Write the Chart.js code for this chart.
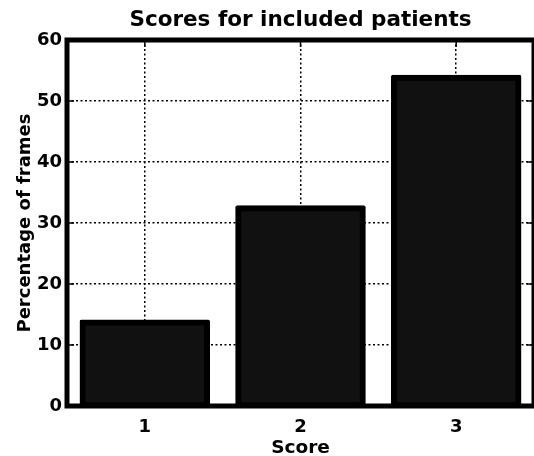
<!DOCTYPE html>
<html>
<head>
<meta charset="utf-8">
<script src="https://cdn.jsdelivr.net/npm/chart.js@4.4.0/dist/chart.umd.min.js"></script>
<style>
  html, body { margin: 0; padding: 0; background: #fff; }
  #wrap { width: 534px; height: 456px; }
</style>
</head>
<body>
<div id="wrap"><canvas id="myChart" width="534" height="456"></canvas></div>
<script>
// chart data
const scoreLabels = ['1', '2', '3'];
const framePercent = [13.7, 32.4, 53.8];
const yTicks = [0, 10, 20, 30, 40, 50, 60];

const fontFamily = '"DejaVu Sans", Verdana, sans-serif';

// matlab style box + inward ticks
const framePlugin = {
  id: 'frame',
  afterDraw(chart) {
    const ctx = chart.ctx;
    const a = chart.chartArea;
    const xs = chart.scales.x, ys = chart.scales.y;
    ctx.save();
    ctx.strokeStyle = '#000';
    ctx.lineWidth = 1.5;
    ctx.beginPath();
    xs.ticks.forEach((t, i) => {
      const px = xs.getPixelForTick(i);
      ctx.moveTo(px, a.top); ctx.lineTo(px, a.top + 7);
    });
    yTicks.forEach(v => {
      const py = ys.getPixelForValue(v);
      ctx.moveTo(a.left, py); ctx.lineTo(a.left + 7, py);
      ctx.moveTo(a.right, py); ctx.lineTo(a.right - 7, py);
    });
    ctx.stroke();
    ctx.lineWidth = 5;
    ctx.lineJoin = 'miter';
    ctx.strokeRect(a.left, a.top, a.right - a.left, a.bottom - a.top);
    ctx.restore();
  }
};

new Chart(document.getElementById('myChart'), {
  type: 'bar',
  data: {
    labels: scoreLabels,
    datasets: [{
      data: framePercent,
      xAxisID: 'x',
      backgroundColor: '#111111',
      borderColor: '#000000',
      borderWidth: 6,
      borderSkipped: false,
      borderRadius: 2,
      inflateAmount: 3,
      barPercentage: 0.8,
      categoryPercentage: 1.0
    }]
  },
  options: {
    responsive: false,
    animation: false,
    layout: { padding: { left: 0, right: -1, top: 0, bottom: 0 } },
    plugins: {
      legend: { display: false },
      tooltip: { enabled: false }
    },
    scales: {
      // top axis only carries the title, so it centres over the plot box
      top: {
        type: 'category',
        position: 'top',
        grid: { display: false, drawTicks: false },
        border: { display: false },
        ticks: { display: false },
        title: {
          display: true,
          text: 'Scores for included patients',
          color: '#000',
          padding: { top: 10, bottom: 0 },
          font: { family: fontFamily, size: 21.5, weight: 'bold', lineHeight: 1 }
        },
        afterFit(s) { s.height = 40; }
      },
      x: {
        position: 'bottom',
        offset: true,
        grid: { display: true, offset: false, color: '#000', lineWidth: 1.5, drawTicks: false },
        border: { display: false, dash: [2, 2.5] },
        ticks: {
          color: '#000',
          padding: 12,
          font: { family: fontFamily, size: 18, weight: 'bold', lineHeight: 1 }
        },
        title: {
          display: true,
          text: 'Score',
          color: '#000',
          padding: 0,
          font: { family: fontFamily, size: 18.5, weight: 'bold', lineHeight: 0.8 }
        },
        afterFit(s) { s.height = 50; }
      },
      y: {
        min: 0,
        max: 60,
        grid: { color: '#000', lineWidth: 1.5, drawTicks: false },
        border: { display: false, dash: [2, 2.5] },
        ticks: {
          stepSize: 10,
          color: '#000',
          padding: 5,
          font: { family: fontFamily, size: 18, weight: 'bold', lineHeight: 1 }
        },
        title: {
          display: true,
          text: 'Percentage of frames',
          color: '#000',
          padding: { top: 16, bottom: 0 },
          font: { family: fontFamily, size: 18, weight: 'bold', lineHeight: 1 }
        },
        afterFit(s) { s.width = 67; }
      }
    }
  },
  plugins: [framePlugin]
});
</script>
</body>
</html>
